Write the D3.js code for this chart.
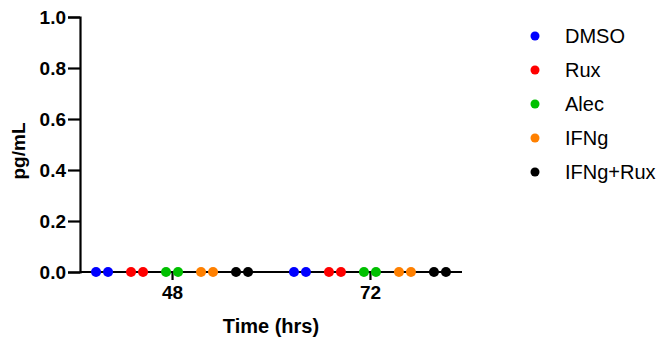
<!DOCTYPE html>
<html>
<head>
<meta charset="utf-8">
<script src="https://cdn.jsdelivr.net/npm/d3@7"></script>
<style>
  body { margin: 0; background: #fff; }
  svg { display: block; font-family: "Liberation Sans", Arial, sans-serif; }
</style>
</head>
<body>
<div id="chart"></div>
<script>
// data
const times = ['48', '72'];
const groups = ['DMSO', 'Rux', 'Alec', 'IFNg', 'IFNg+Rux'];
const colors = ['#0000ff', '#ff0000', '#00c000', '#ff8000', '#000000'];
// two replicates per group, per time point (all at 0 pg/mL)
const values48 = [[0, 0], [0, 0], [0, 0], [0, 0], [0, 0]];
const values72 = [[0, 0], [0, 0], [0, 0], [0, 0], [0, 0]];
const yTicks = [0, 0.2, 0.4, 0.6, 0.8, 1.0];

const width = 660, height = 347;
const plotLeft = 80, plotRight = 462, plotTop = 17, plotBottom = 272;

const svg = d3.select('#chart').append('svg')
  .attr('width', width)
  .attr('height', height);

const x = d3.scalePoint().domain(times).range([plotLeft, plotRight]).padding(0.465);
const xGroup = d3.scaleBand().domain(groups).range([-87.5, 87.5]);
const xRep = d3.scalePoint().domain([0, 1]).range([-6, 6]);
const y = d3.scaleLinear().domain([0, 1]).range([plotBottom, plotTop]);
const color = d3.scaleOrdinal().domain(groups).range(colors);

// y axis
const yAxis = svg.append('g')
  .attr('transform', `translate(${plotLeft},0)`)
  .call(d3.axisLeft(y).tickValues(yTicks).tickFormat(d3.format('.1f')).tickSize(12).tickPadding(2));
yAxis.select('.domain').attr('stroke', '#000').attr('stroke-width', 2.2);
yAxis.selectAll('.tick line').attr('stroke', '#000').attr('stroke-width', 2.2);
yAxis.selectAll('.tick text')
  .attr('fill', '#000')
  .style('font-size', '19px')
  .style('font-weight', 'bold');

// x axis
const xAxis = svg.append('g')
  .attr('transform', `translate(0,${plotBottom})`)
  .call(d3.axisBottom(x).tickSize(8).tickPadding(6).tickSizeOuter(0));
xAxis.select('.domain').attr('stroke', '#000').attr('stroke-width', 2.2)
  .attr('d', `M${plotLeft},0H${plotRight}`);
xAxis.selectAll('.tick line').attr('stroke', '#000').attr('stroke-width', 2.2);
xAxis.selectAll('.tick text')
  .attr('fill', '#000')
  .style('font-size', '19px')
  .style('font-weight', 'bold');

// points
const rows = [];
[values48, values72].forEach((vals, ti) => {
  vals.forEach((reps, gi) => {
    reps.forEach((v, ri) => {
      rows.push({ time: times[ti], group: groups[gi], rep: ri, value: v });
    });
  });
});

svg.append('g').selectAll('circle')
  .data(rows)
  .enter()
  .append('circle')
  .attr('cx', d => x(d.time) + xGroup(d.group) + xGroup.bandwidth() / 2 + xRep(d.rep))
  .attr('cy', d => y(d.value))
  .attr('r', 5)
  .attr('fill', d => color(d.group));

// axis titles
svg.append('text')
  .attr('x', 271)
  .attr('y', 333)
  .attr('text-anchor', 'middle')
  .style('font-size', '20px')
  .style('font-weight', 'bold')
  .text('Time (hrs)');

svg.append('text')
  .attr('transform', 'translate(25,151) rotate(-90)')
  .attr('text-anchor', 'middle')
  .style('font-size', '19px')
  .style('font-weight', 'bold')
  .text('pg/mL');

// legend
const legend = svg.append('g').attr('transform', 'translate(535,36)');
const item = legend.selectAll('g')
  .data(groups)
  .enter()
  .append('g')
  .attr('transform', (d, i) => `translate(0,${i * 34})`);
item.append('circle')
  .attr('r', 4.5)
  .attr('fill', d => color(d));
item.append('text')
  .attr('x', 30)
  .attr('dy', '0.35em')
  .style('font-size', '20px')
  .text(d => d);
</script>
</body>
</html>
